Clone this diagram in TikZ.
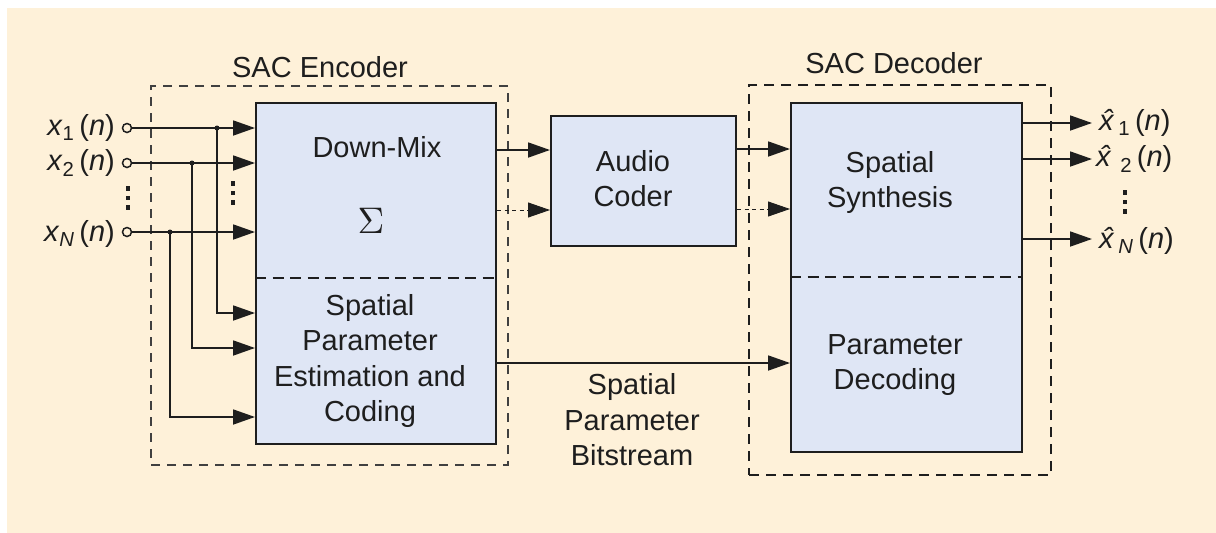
\documentclass[tikz,border=0pt]{standalone}
\usepackage{fontspec}
\usepackage{graphicx}
\setmainfont{Liberation Sans}
\usetikzlibrary{arrows.meta,calc}
\definecolor{bgc}{HTML}{FEF1D9}
\definecolor{blk}{HTML}{DFE6F5}
\definecolor{ink}{HTML}{1E1E1E}
\newcommand\mydots[2]{\foreach \d in {-9.5,0,9.5}{\fill[ink] (#1-1.7,#2+\d-2.2) rectangle (#1+1.7,#2+\d+2.2);}}
\begin{document}
\begin{tikzpicture}[x=1pt,y=-1pt,
  blockbox/.style={draw=ink, line width=2pt, fill=blk, inner sep=0pt},
  arr/.style={draw=ink, line width=1.8pt, -{Triangle[length=22pt,width=15pt]}},
  darr/.style={draw=ink, line width=0.9pt, dash pattern=on 4pt off 3.5pt, -{Triangle[length=22pt,width=15pt]}},
  lbl/.style={text=ink, font=\fontsize{29}{35.5}\selectfont, align=center, inner sep=0pt},
  encframe/.style={draw=ink!85, line width=1.4pt, dash pattern=on 9pt off 7pt, inner sep=0pt},
  decframe/.style={draw=ink, line width=2.4pt, dash pattern=on 10pt off 7pt, inner sep=0pt},
  divider/.style={draw=ink, line width=2pt, dash pattern=on 11pt off 6.5pt},
  inport/.style={circle, draw=ink, line width=1.5pt, fill=bgc, minimum size=9pt, inner sep=0pt},
  junc/.style={circle, fill=ink, minimum size=5pt, inner sep=0pt}]
\useasboundingbox (0,0) rectangle (1216,533);
\fill[white] (0,0) rectangle (1216,533);
\fill[bgc] (7,8) rectangle (1216,533);

% frames
\node[encframe, minimum width=357pt, minimum height=379pt] (encf) at (329.5,275.5) {};
\node[decframe, minimum width=302pt, minimum height=390pt] (decf) at (900,280) {};
\node[lbl] (enct) at (320,67) {SAC Encoder};
\node[lbl] (dect) at (894,63) {SAC Decoder};

% blocks
\node[blockbox, minimum width=240pt, minimum height=341pt] (enc) at (376,273.5) {};
\node[blockbox, minimum width=185pt, minimum height=130pt] (ac) at (643.5,181) {};
\node[blockbox, minimum width=231pt, minimum height=349pt] (dec) at (906.5,277.5) {};
\draw[divider] (enc.west |- 0,278) -- (enc.east |- 0,278);
\draw[divider] (dec.west |- 0,277) -- (dec.east |- 0,277);

% block texts
\node[lbl] (dm) at (377,147) {Down-Mix};
\node[text=ink, inner sep=0pt] (sig) at (371,221) {\scalebox{3.7}{$\Sigma$}};
\node[lbl] (spe) at (370,361) {Spatial\\Parameter\\Estimation and\\Coding};
\node[lbl] (act) at (633,178.5) {Audio\\Coder};
\node[lbl] (sst) at (890,182.5) {Spatial\\Synthesis};
\node[lbl] (pdt) at (895,365) {Parameter\\Decoding};
\node[lbl] (bst) at (632,420) {Spatial\\Parameter\\Bitstream};

% inputs
\node[inport] (i1) at (127,128) {};
\node[inport] (i2) at (127,163) {};
\node[inport] (iN) at (127,232) {};
\node[lbl, anchor=east] (l1) at (115,128) {\textit{x}\textsubscript{1}\,(\textit{n})};
\node[lbl, anchor=east] (l2) at (115,163) {\textit{x}\textsubscript{2}\,(\textit{n})};
\node[lbl, anchor=east] (lN) at (115,234) {\textit{x}\textsubscript{\textit{N}}\,(\textit{n})};
\mydots{128}{198}
\mydots{233}{193}

\node[junc] (j1) at (217,128) {};
\node[junc] (j2) at (192,163) {};
\node[junc] (jN) at (170,232) {};

\draw[arr] (i1) -- (i1 -| enc.west);
\draw[arr] (i2) -- (i2 -| enc.west);
\draw[arr] (iN) -- (iN -| enc.west);
\draw[arr] (j1.center) |- (enc.west |- 0,313);
\draw[arr] (j2.center) |- (enc.west |- 0,348);
\draw[arr] (jN.center) |- (enc.west |- 0,417);

% encoder -> audio coder -> decoder
\draw[arr] (enc.east |- 0,150) -- (ac.west |- 0,150);
\draw[darr] (enc.east |- 0,210) -- (ac.west |- 0,210);
\draw[arr] (ac.east |- 0,149) -- (dec.west |- 0,149);
\draw[darr] (ac.east |- 0,209) -- (dec.west |- 0,209);
\draw[arr] (enc.east |- 0,363) -- (dec.west |- 0,363);

% outputs
\coordinate (o1) at (1092,123);
\coordinate (o2) at (1092,159);
\coordinate (oN) at (1092,239);
\draw[arr] (dec.east |- o1) -- (o1);
\draw[arr] (dec.east |- o2) -- (o2);
\draw[arr] (dec.east |- oN) -- (oN);
\node[lbl, anchor=west] (r1) at (1099,123) {\textit{\^x}\textsubscript{1}\,(\textit{n})};
\node[lbl, anchor=west] (r2) at (1096,159) {\textit{\^x}\,\textsubscript{2}\,(\textit{n})};
\node[lbl, anchor=west] (rN) at (1099,241) {\textit{\^x}\textsubscript{\textit{N}}\,(\textit{n})};
\mydots{1125}{202}
\end{tikzpicture}
\end{document}
